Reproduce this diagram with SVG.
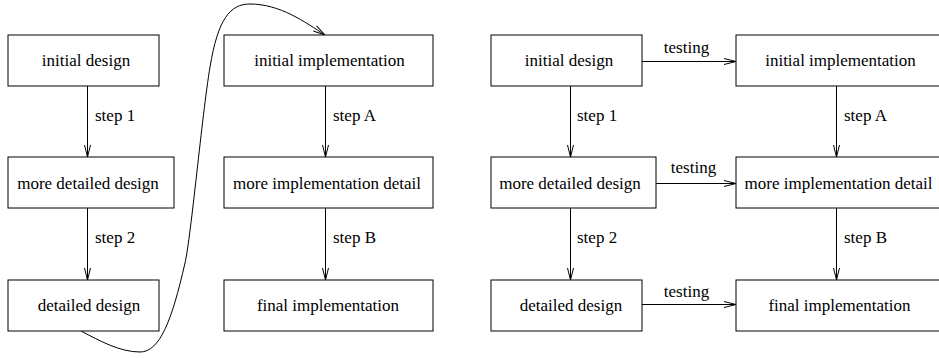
<svg xmlns="http://www.w3.org/2000/svg" width="939" height="358" viewBox="0 0 939 358">
<defs>
<style>
.box{fill:#fff;stroke:#000;stroke-width:1}
.t{font-size:17px;fill:#000}
.m{text-anchor:middle}
.c{fill:none;stroke:#000;stroke-width:1}
</style>
<marker id="arr" markerUnits="userSpaceOnUse" markerWidth="14" markerHeight="8" refX="12.5" refY="4" orient="auto" overflow="visible">
<path d="M0.5,1 L12.5,4 L0.5,7" fill="none" stroke="#000" stroke-width="1"/>
</marker>
</defs>
<rect width="939" height="358" fill="#fff"/>
<g font-family="'Liberation Serif', 'Times New Roman', Times, serif">
<g id="connectors">
<line class="c" x1="87.5" y1="86" x2="87.5" y2="157" marker-end="url(#arr)"/>
<line class="c" x1="87.5" y1="208" x2="87.5" y2="280" marker-end="url(#arr)"/>
<line class="c" x1="325.5" y1="86" x2="325.5" y2="157" marker-end="url(#arr)"/>
<line class="c" x1="325.5" y1="208" x2="325.5" y2="280" marker-end="url(#arr)"/>
<path class="c" d="M81,331 C100,341 120,352 140,352 C160,352 172,320 185,263 C191,237 202,115 210,67 C218,19 230,4 250,4 C280,4 305,22 325,35" marker-end="url(#arr)"/>
<line class="c" x1="570.5" y1="86" x2="570.5" y2="157" marker-end="url(#arr)"/>
<line class="c" x1="570.5" y1="208" x2="570.5" y2="280" marker-end="url(#arr)"/>
<line class="c" x1="836.5" y1="86" x2="836.5" y2="157" marker-end="url(#arr)"/>
<line class="c" x1="836.5" y1="208" x2="836.5" y2="280" marker-end="url(#arr)"/>
<line class="c" x1="642" y1="61.5" x2="736" y2="61.5" marker-end="url(#arr)"/>
<line class="c" x1="656" y1="183.5" x2="736" y2="183.5" marker-end="url(#arr)"/>
<line class="c" x1="642" y1="304.5" x2="736" y2="304.5" marker-end="url(#arr)"/>
<text class="t" x="95" y="121">step 1</text>
<text class="t" x="95" y="243">step 2</text>
<text class="t" x="333" y="121">step A</text>
<text class="t" x="333" y="243">step B</text>
<text class="t" x="577" y="121">step 1</text>
<text class="t" x="577" y="243">step 2</text>
<text class="t" x="844" y="121">step A</text>
<text class="t" x="844" y="243">step B</text>
<text class="t m" x="686.5" y="53">testing</text>
<text class="t m" x="693.5" y="173">testing</text>
<text class="t m" x="686.5" y="297">testing</text>
</g>

<g id="l-initial-design"><rect class="box" x="8" y="35" width="151" height="51"/><text class="t m" x="86" y="66">initial design</text></g>
<g id="l-more-detailed-design"><rect class="box" x="8" y="157" width="166" height="51"/><text class="t m" x="88" y="189">more detailed design</text></g>
<g id="l-detailed-design"><rect class="box" x="8" y="280" width="151" height="51"/><text class="t m" x="89" y="311">detailed design</text></g>
<g id="m-initial-implementation"><rect class="box" x="224" y="35" width="209" height="51"/><text class="t m" x="329.5" y="66">initial implementation</text></g>
<g id="m-more-implementation-detail"><rect class="box" x="224" y="157" width="209" height="51"/><text class="t m" x="327" y="189">more implementation detail</text></g>
<g id="m-final-implementation"><rect class="box" x="224" y="280" width="209" height="51"/><text class="t m" x="328" y="311">final implementation</text></g>
<g id="r-initial-design"><rect class="box" x="491" y="35" width="151" height="51"/><text class="t m" x="569" y="66">initial design</text></g>
<g id="r-more-detailed-design"><rect class="box" x="491" y="157" width="165" height="51"/><text class="t m" x="570" y="189">more detailed design</text></g>
<g id="r-detailed-design"><rect class="box" x="491" y="280" width="151" height="51"/><text class="t m" x="571" y="311">detailed design</text></g>
<g id="r-initial-implementation"><rect class="box" x="736" y="35" width="210" height="51"/><text class="t m" x="840.5" y="66">initial implementation</text></g>
<g id="r-more-implementation-detail"><rect class="box" x="736" y="157" width="210" height="51"/><text class="t m" x="838.5" y="189">more implementation detail</text></g>
<g id="r-final-implementation"><rect class="box" x="736" y="280" width="210" height="51"/><text class="t m" x="839.5" y="311">final implementation</text></g>
</g>
</svg>
